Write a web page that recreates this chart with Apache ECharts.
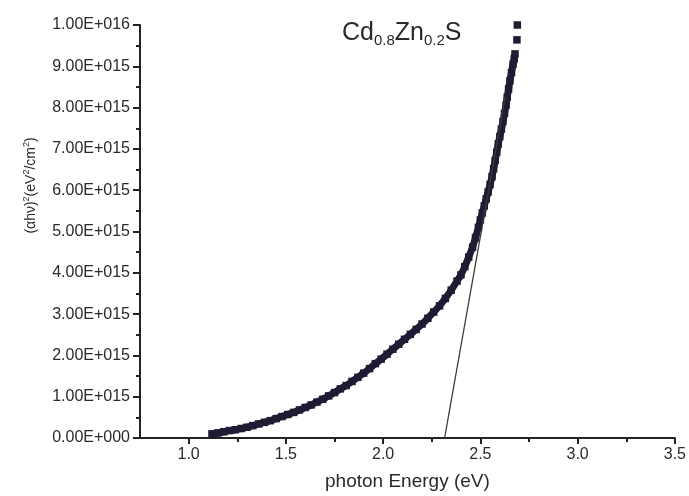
<!DOCTYPE html>
<html>
<head>
<meta charset="utf-8">
<script src="https://cdn.jsdelivr.net/npm/echarts@6/dist/echarts.min.js"></script>
<style>
  html, body { margin: 0; padding: 0; background: #fff; }
  #chart { width: 689px; height: 496px; }
</style>
</head>
<body>
<div id="chart"></div>
<script>
// photon energy (eV) of each measured point
var energy = [
  1.12, 1.15, 1.18, 1.21, 1.24, 1.27, 1.30, 1.33, 1.36, 1.39,
  1.42, 1.45, 1.48, 1.51, 1.54, 1.57, 1.60, 1.63, 1.66, 1.69,
  1.72, 1.75, 1.78, 1.81, 1.84, 1.87, 1.90, 1.93, 1.96, 1.99,
  2.02, 2.05, 2.08, 2.11, 2.14, 2.17, 2.20, 2.23, 2.26, 2.29,
  2.32, 2.35, 2.38, 2.40, 2.42, 2.44, 2.46, 2.475, 2.49, 2.50,
  2.51, 2.52, 2.53, 2.54, 2.55, 2.56, 2.568, 2.576, 2.584, 2.592,
  2.60, 2.608, 2.616, 2.624, 2.632, 2.638, 2.645, 2.652, 2.66, 2.668,
  2.674, 2.678, 2.688, 2.69
];
// (ahv)^2 in units of 1E+015 eV^2/cm^2
var absorb = [
  0.10, 0.12, 0.15, 0.18, 0.20, 0.23, 0.26, 0.30, 0.34, 0.38,
  0.42, 0.47, 0.52, 0.57, 0.62, 0.68, 0.74, 0.80, 0.87, 0.94,
  1.02, 1.10, 1.19, 1.27, 1.37, 1.47, 1.57, 1.68, 1.80, 1.91,
  2.03, 2.15, 2.27, 2.39, 2.51, 2.63, 2.76, 2.90, 3.05, 3.20,
  3.38, 3.58, 3.80, 3.95, 4.15, 4.38, 4.62, 4.85, 5.10, 5.28,
  5.45, 5.62, 5.79, 5.96, 6.14, 6.33, 6.52, 6.72, 6.92, 7.12,
  7.30, 7.48, 7.66, 7.86, 8.06, 8.25, 8.45, 8.65, 8.85, 9.05,
  9.18, 9.30, 9.64, 10.0
];
// the two top points stand apart from the dense band
var looseTop = 2;

// extrapolated straight line (band gap fit)
var fitEnergy = [2.316, 2.628];
var fitAbsorb = [0, 8.27];

var xTickValues = [1.0, 1.5, 2.0, 2.5, 3.0, 3.5];
var xTickLabels = ['1.0', '1.5', '2.0', '2.5', '3.0', '3.5'];
var xMinorValues = [1.25, 1.75, 2.25, 2.75, 3.25];
var yTickLabels = [
  '0.00E+000', '1.00E+015', '2.00E+015', '3.00E+015', '4.00E+015', '5.00E+015',
  '6.00E+015', '7.00E+015', '8.00E+015', '9.00E+015', '1.00E+016'
];

var UNIT = 1e15;
var FONT = '"Liberation Sans", Arial, sans-serif';
var INK = '#2a2a2a';
var MARK = '#1e1b33';

var points = energy.map(function (e, i) { return [e, absorb[i] * UNIT]; });
var fitLine = fitEnergy.map(function (e, i) { return [e, fitAbsorb[i] * UNIT]; });

var myChart = echarts.init(document.getElementById('chart'));
myChart.setOption({
  animation: false,
  backgroundColor: '#fff',
  textStyle: { fontFamily: FONT },
  title: {
    text: 'Cd{sub|0.8}Zn{sub|0.2}S',
    left: 337,
    top: 13,
    textStyle: {
      fontFamily: FONT,
      fontSize: 25,
      fontWeight: 'normal',
      color: INK,
      rich: {
        sub: { fontFamily: FONT, fontSize: 15, color: INK, padding: [15, 0, 0, 0] }
      }
    }
  },
  grid: { left: 140, right: 12, top: 25, bottom: 55 },
  xAxis: [
    {
      type: 'value',
      min: 0.75,
      max: 3.5,
      name: 'photon Energy (eV)',
      nameLocation: 'middle',
      nameGap: 34,
      nameTextStyle: { fontFamily: FONT, fontSize: 19, color: INK },
      axisLine: { show: true, onZero: false, lineStyle: { color: '#222', width: 2 } },
      axisTick: { show: true, length: 6, customValues: xTickValues, lineStyle: { color: '#222', width: 2 } },
      axisLabel: {
        customValues: xTickValues,
        fontFamily: FONT, fontSize: 16, color: INK, margin: 9,
        formatter: function (v) {
          for (var i = 0; i < xTickValues.length; i++) {
            if (Math.abs(v - xTickValues[i]) < 1e-6) return xTickLabels[i];
          }
          return '';
        }
      },
      splitLine: { show: false }
    },
    {
      type: 'value',
      min: 0.75,
      max: 3.5,
      position: 'bottom',
      axisLine: { show: false },
      axisTick: { show: true, length: 4, customValues: xMinorValues, lineStyle: { color: '#222', width: 2 } },
      axisLabel: { show: false },
      splitLine: { show: false }
    }
  ],
  yAxis: {
    type: 'value',
    min: 0,
    max: 10 * UNIT,
    interval: UNIT,
    name: '(\u03b1h\u03bd){sup|2}(eV{sup|2}/cm{sup|2})',
    nameLocation: 'middle',
    nameGap: 100,
    nameTextStyle: {
      fontFamily: FONT, fontSize: 14, color: INK,
      padding: [0, 0, 0, 92],
      rich: {
        sup: { fontFamily: FONT, fontSize: 9, color: INK, padding: [0, 0, 9, 0] }
      }
    },
    axisLine: { show: true, lineStyle: { color: '#222', width: 2 } },
    axisTick: { show: true, length: 7, lineStyle: { color: '#222', width: 2 } },
    minorTick: { show: true, splitNumber: 2, length: 4, lineStyle: { color: '#222', width: 2 } },
    axisLabel: {
      fontFamily: FONT, fontSize: 16, color: INK, margin: 10,
      formatter: function (v) { return yTickLabels[Math.round(v / UNIT)]; }
    },
    splitLine: { show: false }
  },
  series: [
    {
      // dense overlapping squares read as one thick band
      type: 'line',
      data: points.slice(0, points.length - looseTop),
      showSymbol: false,
      smooth: 0.3,
      lineStyle: { color: MARK, width: 7, cap: 'butt' }
    },
    {
      type: 'scatter',
      data: points,
      symbol: 'rect',
      symbolSize: 7.5,
      itemStyle: { color: MARK, opacity: 1 }
    },
    {
      type: 'line',
      data: fitLine,
      showSymbol: false,
      lineStyle: { color: '#3a3a3a', width: 1.3 }
    }
  ]
});
</script>
</body>
</html>
